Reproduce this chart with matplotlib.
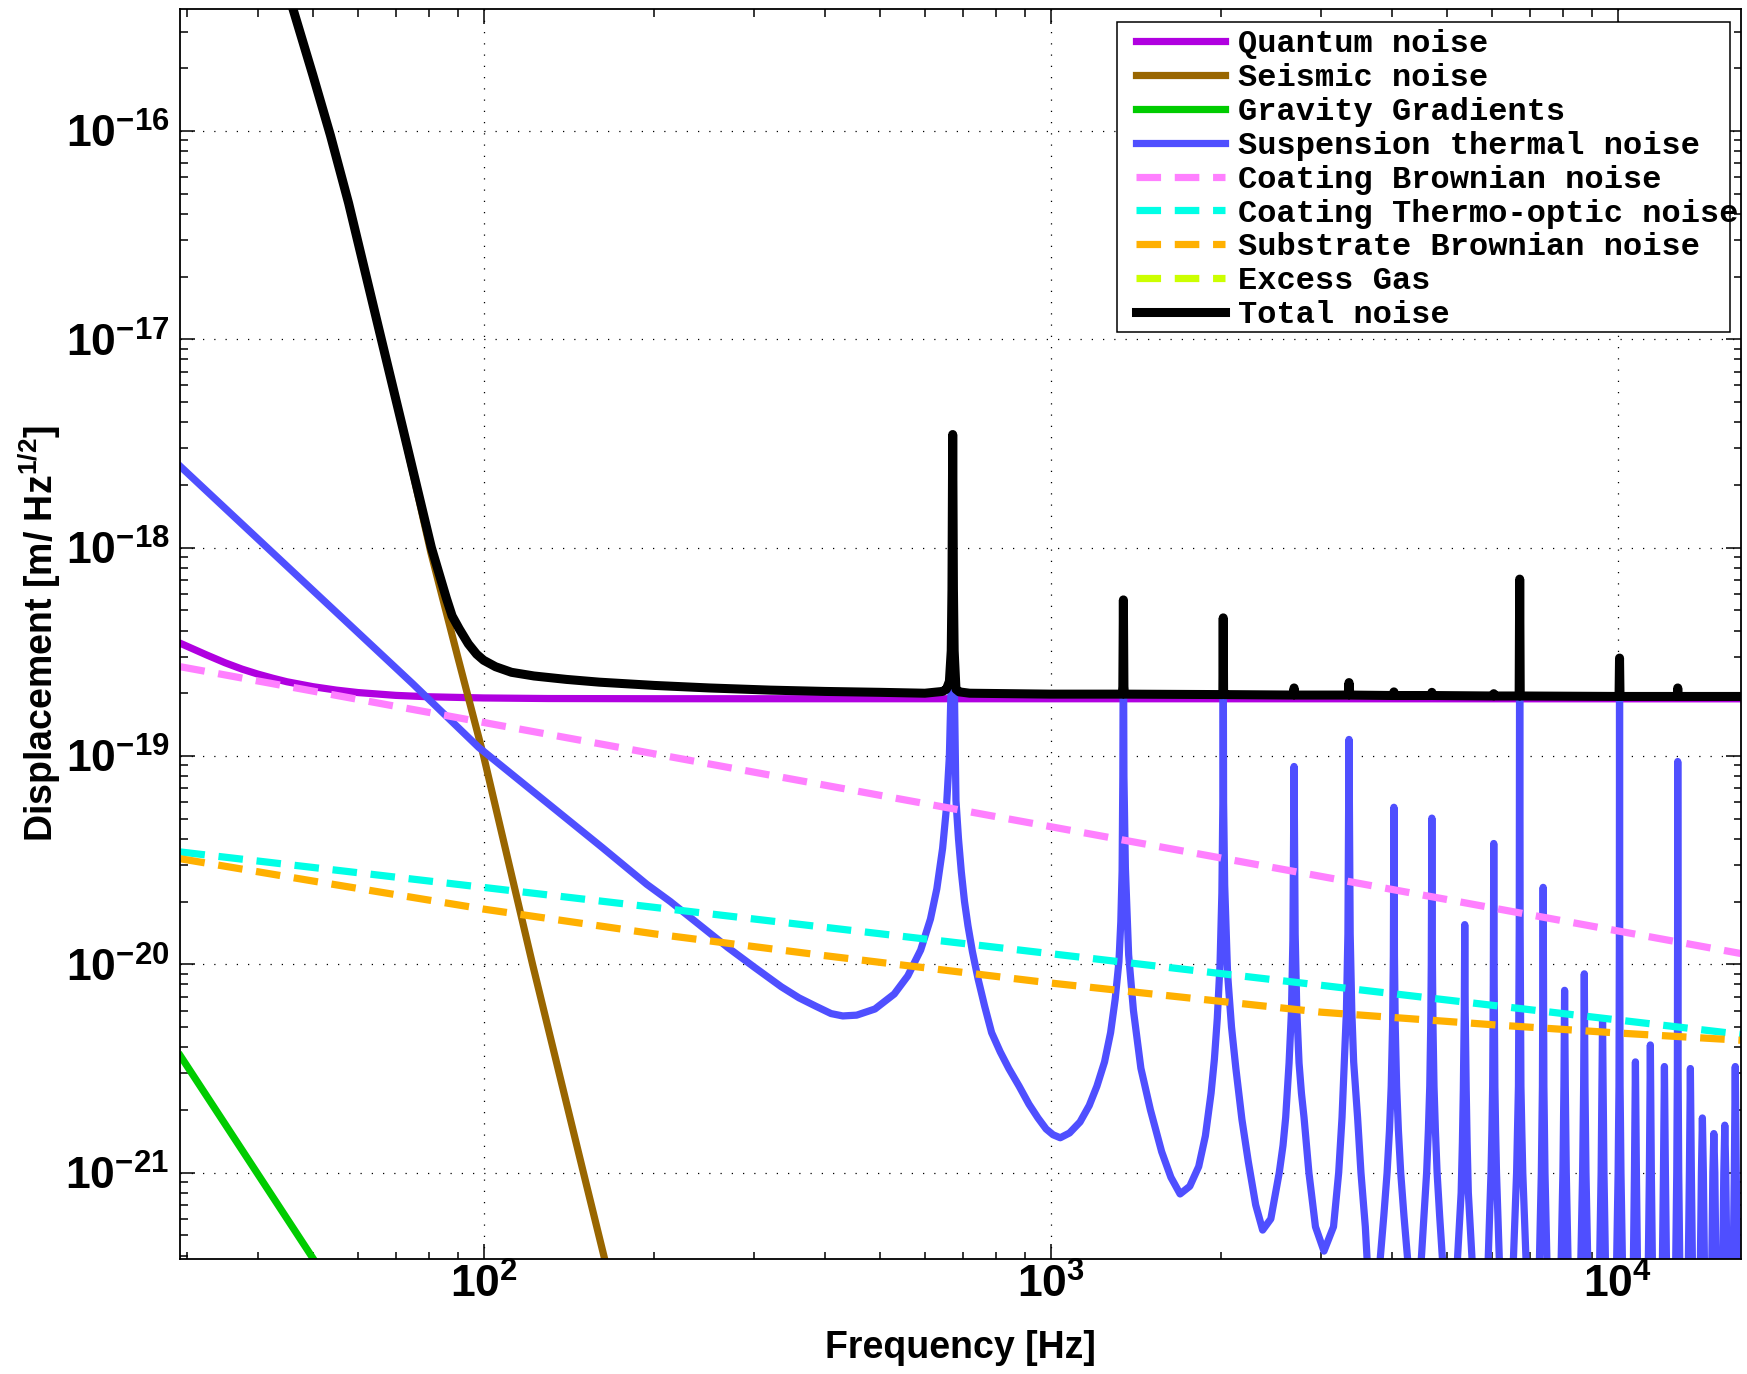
import matplotlib
matplotlib.use("Agg")
import matplotlib.pyplot as plt
from matplotlib.patches import Rectangle
from matplotlib.ticker import FixedLocator, FixedFormatter, LogLocator, NullFormatter

plt.rcParams['font.family'] = ['Liberation Sans', 'DejaVu Sans']
plt.rcParams['font.weight'] = 'bold'
plt.rcParams['mathtext.fontset'] = 'custom'
plt.rcParams['mathtext.rm'] = 'Liberation Sans:bold'
plt.rcParams['mathtext.it'] = 'Liberation Sans:bold'
plt.rcParams['mathtext.bf'] = 'Liberation Sans:bold'
plt.rcParams['mathtext.sf'] = 'Liberation Sans:bold'

# ---- data (frequency in Hz, displacement in m/Hz^1/2) ----
quantum_f = [29.2, 32.5, 35, 37.5, 40, 42.5, 45, 50, 55, 60, 70, 80, 100,
             130, 200, 16500]
quantum_v = [3.47e-19, 3.05e-19, 2.80e-19, 2.61e-19, 2.47e-19, 2.36e-19,
             2.27e-19, 2.15e-19, 2.07e-19, 2.015e-19, 1.953e-19, 1.923e-19,
             1.898e-19, 1.886e-19, 1.882e-19, 1.88e-19]

seismic_f = [40, 46.1, 50, 53.7, 57.8, 61.5, 65.9, 72, 80.7, 90, 100, 122,
             150, 170]
seismic_v = [1.4e-15, 3.86e-16, 1.85e-16, 9.5e-17, 4.5e-17, 2.23e-17,
             1.02e-17, 3.76e-18, 9.5e-19, 3.0e-19, 1.0e-19, 1.0e-20, 1.0e-21,
             2.5e-22]

gravity_f = [29.2, 60]
gravity_v = [3.63e-21, 1.82e-22]

coat_brown_f = [29.2, 16500]
coat_brown_v = [2.68e-19, 1.126e-20]

coat_to_f = [29.2, 16500]
coat_to_v = [3.46e-20, 4.61e-21]

sub_brown_f = [29.2, 50, 100, 200, 400, 1000, 3000, 6000, 10000, 16500]
sub_brown_v = [3.21e-20, 2.51e-20, 1.84e-20, 1.40e-20, 1.10e-20, 8.13e-21,
               5.89e-21, 5.13e-21, 4.68e-21, 4.32e-21]

gas_f = [29.2, 16500]
gas_v = [1.0e-22, 1.0e-22]

# suspension thermal noise with violin modes at multiples of ~672 Hz
susp_points = [
    (29.2, 2.45e-18), (75, 2.22e-19), (98, 1.1e-19), (132, 5.7e-20),
    (162, 3.63e-20), (194, 2.42e-20), (213.5, 2.0e-20), (240, 1.55e-20),
    (270, 1.2e-20), (300, 9.7e-21), (335, 7.8e-21), (360, 6.9e-21),
    (385, 6.3e-21), (410, 5.8e-21), (430, 5.65e-21), (455, 5.7e-21),
    (490, 6.1e-21), (530, 7.2e-21), (560, 8.8e-21), (590, 1.17e-20),
    (614, 1.65e-20), (630, 2.3e-20), (645, 3.6e-20), (655, 5.6e-20),
    (663, 1.0e-19), (668, 2.3e-19), (670, 6.0e-19),
    (672, 3.48e-18), (674, 6.0e-19), (676, 2.5e-19), (681, 6.1e-20),
    (688, 4.0e-20), (696, 2.77e-20), (705, 2.0e-20), (715, 1.53e-20),
    (728, 1.15e-20), (745, 8.5e-21), (765, 6.3e-21), (787, 4.7e-21),
    (815, 3.8e-21), (844, 3.16e-21), (880, 2.6e-21), (916, 2.13e-21),
    (950, 1.83e-21), (982, 1.62e-21), (1010, 1.52e-21), (1040, 1.47e-21),
    (1080, 1.55e-21), (1127, 1.75e-21), (1170, 2.1e-21), (1207, 2.6e-21),
    (1245, 3.4e-21), (1276, 4.7e-21), (1300, 6.8e-21), (1320, 1.03e-20),
    (1330, 1.6e-20), (1337, 2.8e-20), (1341, 8.0e-20), (1344, 5.25e-19),
    (1347, 8.0e-20), (1355, 2.9e-20), (1373, 1.11e-20), (1400, 6.0e-21),
    (1443, 3.17e-21), (1500, 2.0e-21), (1570, 1.26e-21), (1630, 9.5e-22),
    (1692, 7.9e-22), (1760, 8.6e-22), (1825, 1.07e-21), (1875, 1.5e-21),
    (1919, 2.41e-21), (1945, 3.5e-21), (1968, 5.5e-21), (1990, 1.0e-20),
    (2005, 2.2e-20), (2013, 6.0e-20), (2016, 4.16e-19), (2019, 6.0e-20),
    (2028, 2.4e-20), (2052, 9.0e-21), (2085, 5.0e-21), (2122, 3.17e-21),
    (2175, 1.8e-21), (2232, 1.13e-21), (2300, 7.0e-22), (2366, 5.3e-22),
    (2446, 6.0e-22), (2531, 1.0e-21), (2570, 1.35e-21), (2598, 1.84e-21),
    (2634, 3.36e-21), (2660, 6.0e-21), (2675, 1.3e-20), (2688, 8.9e-20),
    (2700, 1.4e-20), (2718, 6.0e-21), (2743, 3.36e-21), (2770, 2.4e-21),
    (2799, 1.84e-21), (2855, 1.0e-21), (2932, 5.5e-22), (3035, 4.2e-22),
    (3155, 5.5e-22), (3222, 1.0e-21), (3266, 1.84e-21), (3297, 3.4e-21),
    (3325, 6.0e-21), (3345, 1.4e-20), (3360, 1.2e-19), (3376, 1.4e-20),
    (3398, 6.0e-21), (3424, 3.4e-21), (3479, 1.84e-21), (3527, 1.0e-21),
    (3590, 5.5e-22), (3615, 3.9e-22), (3714, 2.0e-22),
    # 4032
    (3815, 3.9e-22), (3870, 6.2e-22), (3922, 1.0e-21), (3960, 1.6e-21),
    (3988, 2.6e-21), (4010, 5.0e-21), (4023, 1.1e-20), (4032, 5.67e-20),
    (4041, 1.1e-20), (4054, 5.0e-21), (4077, 2.6e-21), (4106, 1.6e-21),
    (4145, 1.0e-21), (4200, 6.2e-22), (4261, 3.9e-22), (4383, 2.0e-22),
    # 4704
    (4508, 3.9e-22), (4555, 6.2e-22), (4605, 1.0e-21), (4638, 1.6e-21),
    (4664, 2.6e-21), (4682, 5.0e-21), (4693, 1.0e-20), (4704, 5.03e-20),
    (4715, 1.0e-20), (4726, 5.0e-21), (4745, 2.6e-21), (4772, 1.6e-21),
    (4805, 1.0e-21), (4855, 6.2e-22), (4909, 3.9e-22), (5065, 2.0e-22),
    # 5376
    (5221, 3.9e-22), (5260, 5.6e-22), (5298, 8.0e-22), (5325, 1.4e-21),
    (5345, 2.5e-21), (5366, 6.0e-21), (5376, 1.55e-20), (5386, 6.0e-21),
    (5408, 2.5e-21), (5428, 1.4e-21), (5455, 8.0e-22), (5495, 5.6e-22),
    (5536, 3.9e-22), (5722, 2.0e-22),
    # 6048
    (5914, 3.9e-22), (5948, 6.2e-22), (5981, 1.0e-21), (6003, 1.6e-21),
    (6021, 2.6e-21), (6037, 8.0e-21), (6048, 3.8e-20), (6059, 8.0e-21),
    (6076, 2.6e-21), (6094, 1.6e-21), (6116, 1.0e-21), (6150, 6.2e-22),
    (6185, 3.9e-22), (6366, 2.0e-22),
    # 6720
    (6552, 3.9e-22), (6594, 6.2e-22), (6636, 1.0e-21), (6662, 1.6e-21),
    (6686, 2.6e-21), (6708, 1.5e-20), (6720, 6.8e-19), (6732, 1.5e-20),
    (6754, 2.6e-21), (6778, 1.6e-21), (6805, 1.0e-21), (6848, 6.2e-22),
    (6893, 3.9e-22), (7085, 2.0e-22),
    # 7392
    (7282, 3.9e-22), (7310, 6.2e-22), (7337, 1.0e-21), (7370, 2.6e-21),
    (7379, 7.0e-21), (7392, 2.34e-20), (7405, 7.0e-21), (7414, 2.6e-21),
    (7447, 1.0e-21), (7475, 6.2e-22), (7504, 3.9e-22), (7728, 2.0e-22),
    # 8064
    (7954, 3.9e-22), (7981, 6.2e-22), (8009, 1.0e-21), (8042, 2.6e-21),
    (8064, 7.5e-21), (8087, 2.6e-21), (8120, 1.0e-21), (8148, 6.2e-22),
    (8176, 3.9e-22), (8396, 2.0e-22),
    # 8736
    (8616, 3.9e-22), (8646, 6.2e-22), (8676, 1.0e-21), (8712, 2.6e-21),
    (8736, 9.0e-21), (8761, 2.6e-21), (8796, 1.0e-21), (8826, 6.2e-22),
    (8857, 3.9e-22), (9078, 2.0e-22),
    # 9408
    (9300, 3.9e-22), (9327, 6.2e-22), (9354, 1.0e-21), (9386, 2.6e-21),
    (9408, 5.47e-21), (9430, 2.6e-21), (9463, 1.0e-21), (9490, 6.2e-22),
    (9517, 3.9e-22), (9740, 2.0e-22),
    # 10080
    (9964, 3.9e-22), (9993, 6.2e-22), (10022, 1.0e-21), (10057, 2.6e-21),
    (10072, 1.2e-20), (10080, 2.3e-19), (10088, 1.2e-20), (10103, 2.6e-21),
    (10139, 1.0e-21), (10168, 6.2e-22), (10197, 3.9e-22), (10430, 2.0e-22),
    # 10752 .. 12096
    (10666, 3.9e-22), (10709, 1.0e-21), (10752, 3.4e-21), (10795, 1.0e-21),
    (10839, 3.9e-22), (11085, 2.0e-22),
    (11332, 3.9e-22), (11379, 1.0e-21), (11424, 4.1e-21), (11470, 1.0e-21),
    (11517, 3.9e-22), (11758, 2.0e-22),
    (11999, 3.9e-22), (12048, 1.0e-21), (12096, 3.23e-21), (12144, 1.0e-21),
    (12194, 3.9e-22), (12430, 2.0e-22),
    # 12768
    (12665, 3.9e-22), (12717, 1.0e-21), (12748, 3.0e-21), (12759, 1.2e-20),
    (12768, 9.4e-20), (12777, 1.2e-20), (12788, 3.0e-21), (12819, 1.0e-21),
    (12871, 3.9e-22), (13100, 2.0e-22),
    # 13440 .. 16128
    (13332, 3.9e-22), (13387, 1.0e-21), (13440, 3.16e-21), (13494, 1.0e-21),
    (13549, 3.9e-22), (13774, 2.0e-22),
    (13999, 3.9e-22), (14056, 1.0e-21), (14112, 1.83e-21), (14168, 1.0e-21),
    (14226, 3.9e-22), (14445, 2.0e-22),
    (14665, 3.9e-22), (14725, 1.0e-21), (14784, 1.54e-21), (14843, 1.0e-21),
    (14904, 3.9e-22), (15118, 2.0e-22),
    (15332, 3.9e-22), (15394, 1.0e-21), (15456, 1.69e-21), (15518, 1.0e-21),
    (15581, 3.9e-22), (15790, 2.0e-22),
    (15998, 3.9e-22), (16064, 1.0e-21), (16128, 3.23e-21), (16193, 1.0e-21),
    (16259, 3.9e-22), (16500, 2.0e-22),
]
susp_f, susp_v = zip(*susp_points)

total_points = [
    (44, 5.9e-16), (46.1, 3.86e-16), (50, 1.85e-16), (53.7, 9.5e-17),
    (57.8, 4.5e-17), (61.5, 2.23e-17), (65.9, 1.02e-17), (72, 3.76e-18),
    (80.9, 1.0e-18), (83, 7.9e-19), (86, 5.7e-19), (88, 4.7e-19),
    (90.6, 4.07e-19), (94, 3.45e-19), (97.2, 3.08e-19), (100, 2.88e-19),
    (105, 2.68e-19), (112, 2.52e-19), (122.7, 2.42e-19), (140, 2.33e-19),
    (160, 2.26e-19), (200, 2.18e-19), (250, 2.12e-19), (320, 2.07e-19),
    (400, 2.04e-19), (500, 2.02e-19), (600, 2.0e-19), (645, 2.04e-19),
    (655, 2.09e-19), (663, 2.28e-19), (668, 3.2e-19), (670, 6.3e-19),
    (672, 3.49e-18), (674, 6.3e-19), (676, 3.2e-19), (681, 2.09e-19),
    (690, 2.03e-19), (720, 2.0e-19),
    (1000, 1.98e-19), (1338, 1.98e-19), (1341, 2.15e-19), (1344, 5.61e-19),
    (1347, 2.15e-19), (1350, 1.98e-19), (2010, 1.97e-19), (2013, 2.05e-19),
    (2016, 4.6e-19), (2019, 2.05e-19), (2022, 1.97e-19), (2678, 1.96e-19),
    (2688, 2.12e-19), (2698, 1.96e-19), (3348, 1.96e-19), (3360, 2.25e-19),
    (3372, 1.96e-19), (4020, 1.95e-19), (4032, 2.03e-19), (4044, 1.95e-19),
    (4690, 1.95e-19), (4704, 2.02e-19), (4718, 1.95e-19), (6030, 1.94e-19),
    (6048, 1.99e-19), (6066, 1.94e-19), (6705, 1.94e-19), (6720, 7.06e-19),
    (6735, 1.94e-19), (10060, 1.93e-19), (10080, 2.95e-19), (10100, 1.93e-19),
    (12740, 1.93e-19), (12768, 2.12e-19), (12796, 1.93e-19), (16500, 1.93e-19),
]
total_f, total_v = zip(*total_points)

x_ticks = [1e2, 1e3, 1e4]
x_tick_labels = [r'$10^{2}$', r'$10^{3}$', r'$10^{4}$']
y_ticks = [1e-21, 1e-20, 1e-19, 1e-18, 1e-17, 1e-16]
y_tick_labels = [r'$10^{-21}$', r'$10^{-20}$', r'$10^{-19}$',
                 r'$10^{-18}$', r'$10^{-17}$', r'$10^{-16}$']

# ---- figure ----
fig = plt.figure(figsize=(17.47, 13.74), dpi=100)
ax = fig.add_axes([0.1033, 0.0837, 0.8932, 0.9098])

lw = 5.2
dash = (3.4, 1.9)
ax.plot(quantum_f, quantum_v, color='#B000E0', lw=lw, label='Quantum noise')
ax.plot(seismic_f, seismic_v, color='#996600', lw=lw, label='Seismic noise')
ax.plot(gravity_f, gravity_v, color='#00CC00', lw=lw, label='Gravity Gradients')
ax.plot(susp_f, susp_v, color='#4F4FFF', lw=lw, label='Suspension thermal noise')
ax.plot(coat_brown_f, coat_brown_v, color='#FF80FF', lw=lw, dashes=dash,
        label='Coating Brownian noise')
ax.plot(coat_to_f, coat_to_v, color='#00FFE6', lw=lw, dashes=dash,
        label='Coating Thermo-optic noise')
ax.plot(sub_brown_f, sub_brown_v, color='#FFB000', lw=lw, dashes=dash,
        label='Substrate Brownian noise')
ax.plot(gas_f, gas_v, color='#CCFF00', lw=lw, dashes=dash, label='Excess Gas')
ax.plot(total_f, total_v, color='black', lw=6.5, label='Total noise')

ax.set_xscale('log')
ax.set_yscale('log')
ax.set_xlim(29.2, 16500)
ax.set_ylim(3.85e-22, 3.85e-16)

ax.xaxis.set_major_locator(FixedLocator(x_ticks))
ax.xaxis.set_major_formatter(FixedFormatter(x_tick_labels))
ax.yaxis.set_major_locator(FixedLocator(y_ticks))
ax.yaxis.set_major_formatter(FixedFormatter(y_tick_labels))
ax.xaxis.set_minor_locator(LogLocator(base=10, subs=range(2, 10), numticks=100))
ax.yaxis.set_minor_locator(LogLocator(base=10, subs=range(2, 10), numticks=100))
ax.xaxis.set_minor_formatter(NullFormatter())
ax.yaxis.set_minor_formatter(NullFormatter())

ax.tick_params(which='both', direction='in', top=True, right=True, width=1.1)
ax.tick_params(which='major', length=10.5, labelsize=32)
ax.tick_params(which='minor', length=5.4)
ax.tick_params(axis='x', which='major', pad=3)
ax.tick_params(axis='y', which='major', pad=8)
for s in ax.spines.values():
    s.set_linewidth(1.3)

ax.grid(True, which='major', color='black', lw=0.9, linestyle=(0, (1, 8)))

ax.set_xlabel('Frequency [Hz]', fontsize=27, fontweight='bold')
ax.set_ylabel(r'Displacement [m/ Hz$^{1/2}$]', fontsize=27, fontweight='bold')
ax.xaxis.set_label_coords(0.5, -0.057)
ax.yaxis.set_label_coords(-0.0753, 0.5)

box = Rectangle((0.6005, 0.7416), 0.3925, 0.2478, transform=ax.transAxes,
                facecolor='white', edgecolor='black', lw=1.1, zorder=4)
ax.add_patch(box)
leg = ax.legend(loc='upper left', bbox_to_anchor=(0.6123, 0.9836),
                frameon=False, borderpad=0, borderaxespad=0,
                handlelength=2.8, handletextpad=0.4, labelspacing=0.12,
                prop={'family': 'Liberation Mono', 'weight': 'bold', 'size': 23})
leg.set_zorder(5)

fig.savefig('out.png', dpi=100)
